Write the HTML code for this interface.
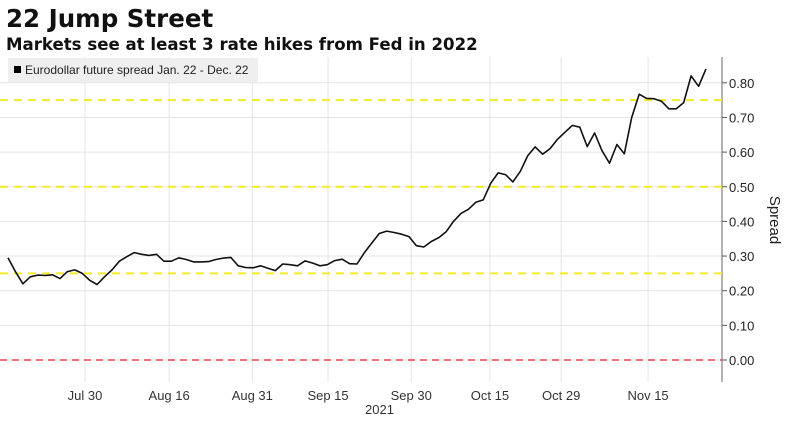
<!DOCTYPE html>
<html><head><meta charset="utf-8"><style>
body{margin:0;background:#fff;font-family:"Liberation Sans",sans-serif;}
svg text{font-family:"Liberation Sans",sans-serif;}
svg text.dv{font-family:"DejaVu Sans",sans-serif;}
</style></head><body>
<svg id="c" width="792" height="419">
<text class="dv" x="6" y="27" font-size="24.5" font-weight="bold" fill="#111">22 Jump Street</text>
<text class="dv" x="6" y="50" font-size="16.6" font-weight="bold" fill="#111">Markets see at least 3 rate hikes from Fed in 2022</text>
<g id="grid"></g>
<g id="marks"></g>
<rect x="8" y="58" width="250" height="24" fill="#efefef"/>
<rect x="14" y="66" width="7" height="7" fill="#000"/>
<text x="25" y="74" font-size="12" fill="#222">Eurodollar future spread Jan. 22 - Dec. 22</text>
<text x="365" y="414" font-size="13" fill="#333">2021</text>
<text transform="translate(770,220) rotate(90)" font-size="15" fill="#222" text-anchor="middle">Spread</text>
</svg>
<script>
const values=[0.295,0.255,0.22,0.24,0.245,0.244,0.246,0.235,0.255,0.26,0.25,0.23,0.218,0.24,0.26,0.285,0.298,0.31,0.305,0.302,0.305,0.285,0.285,0.295,0.29,0.283,0.283,0.284,0.29,0.294,0.296,0.272,0.267,0.266,0.272,0.265,0.258,0.277,0.275,0.272,0.286,0.28,0.272,0.275,0.287,0.291,0.278,0.277,0.31,0.338,0.365,0.372,0.368,0.363,0.356,0.33,0.326,0.342,0.353,0.37,0.40,0.423,0.435,0.455,0.462,0.51,0.54,0.535,0.514,0.545,0.59,0.615,0.594,0.61,0.637,0.657,0.677,0.672,0.616,0.655,0.604,0.568,0.622,0.595,0.70,0.767,0.755,0.754,0.747,0.725,0.725,0.743,0.82,0.79,0.84];
const xTickLabels=["Jul 30","Aug 16","Aug 31","Sep 15","Sep 30","Oct 15","Oct 29","Nov 15"];
const xTickIdx=[10.37,21.7,32.9,43.1,54.3,64.9,74.5,86.2];
const yTicks=[0,0.1,0.2,0.3,0.4,0.5,0.6,0.7,0.8];
const refYellow=[0.25,0.5,0.75];
const refRed=[0];
const NS="http://www.w3.org/2000/svg";
const X0=8,X1=706,AX=722;
function xs(i){return X0+i*(X1-X0)/(values.length-1);}
function ys(v){return 360-v*346.5;}
const grid=document.getElementById('grid'),marks=document.getElementById('marks');
function mk(tag,attrs,parent){const e=document.createElementNS(NS,tag);for(const k in attrs)e.setAttribute(k,attrs[k]);parent.appendChild(e);return e;}
yTicks.forEach(v=>{
 const l=mk('line',{x1:0,x2:AX,y1:ys(v),y2:ys(v),stroke:'#e4e4e4','stroke-width':1},grid);
 
 
 const tk=mk('line',{x1:AX,x2:AX+5,y1:ys(v),y2:ys(v),stroke:'#555'},grid);
 
 
 const t=mk('text',{x:AX+7,y:ys(v)+5,'font-size':13,fill:'#222'},grid);
 t.textContent=v.toFixed(2);
 
 
});
xTickIdx.forEach((i,k)=>{
 const x=xs(i);
 const l=mk('line',{x1:x,x2:x,y1:57,y2:382,stroke:'#e4e4e4'},grid);
 
 
 const t=mk('text',{x:x,y:400,'font-size':13,fill:'#333','text-anchor':'middle'},grid);
 t.textContent=xTickLabels[k];
 
 
});
const ax=mk('line',{x1:AX,x2:AX,y1:57,y2:382,stroke:'#666'},grid);


refYellow.forEach(v=>{
 const l=mk('line',{x1:0,x2:AX,y1:ys(v),y2:ys(v),stroke:'#f2ea2a','stroke-width':2,'stroke-dasharray':'8,6'},marks);
 
 
});
refRed.forEach(v=>{
 const l=mk('line',{x1:0,x2:AX,y1:ys(v),y2:ys(v),stroke:'#e8454a','stroke-width':1.5,'stroke-dasharray':'7,5'},marks);
 
 
});
const p=mk('path',{d:values.map((v,i)=>(i?'L':'M')+xs(i).toFixed(1)+','+ys(v).toFixed(1)).join(''),fill:'none',stroke:'#111','stroke-width':1.6,'stroke-linejoin':'round'},marks);


</script>
</body></html>
